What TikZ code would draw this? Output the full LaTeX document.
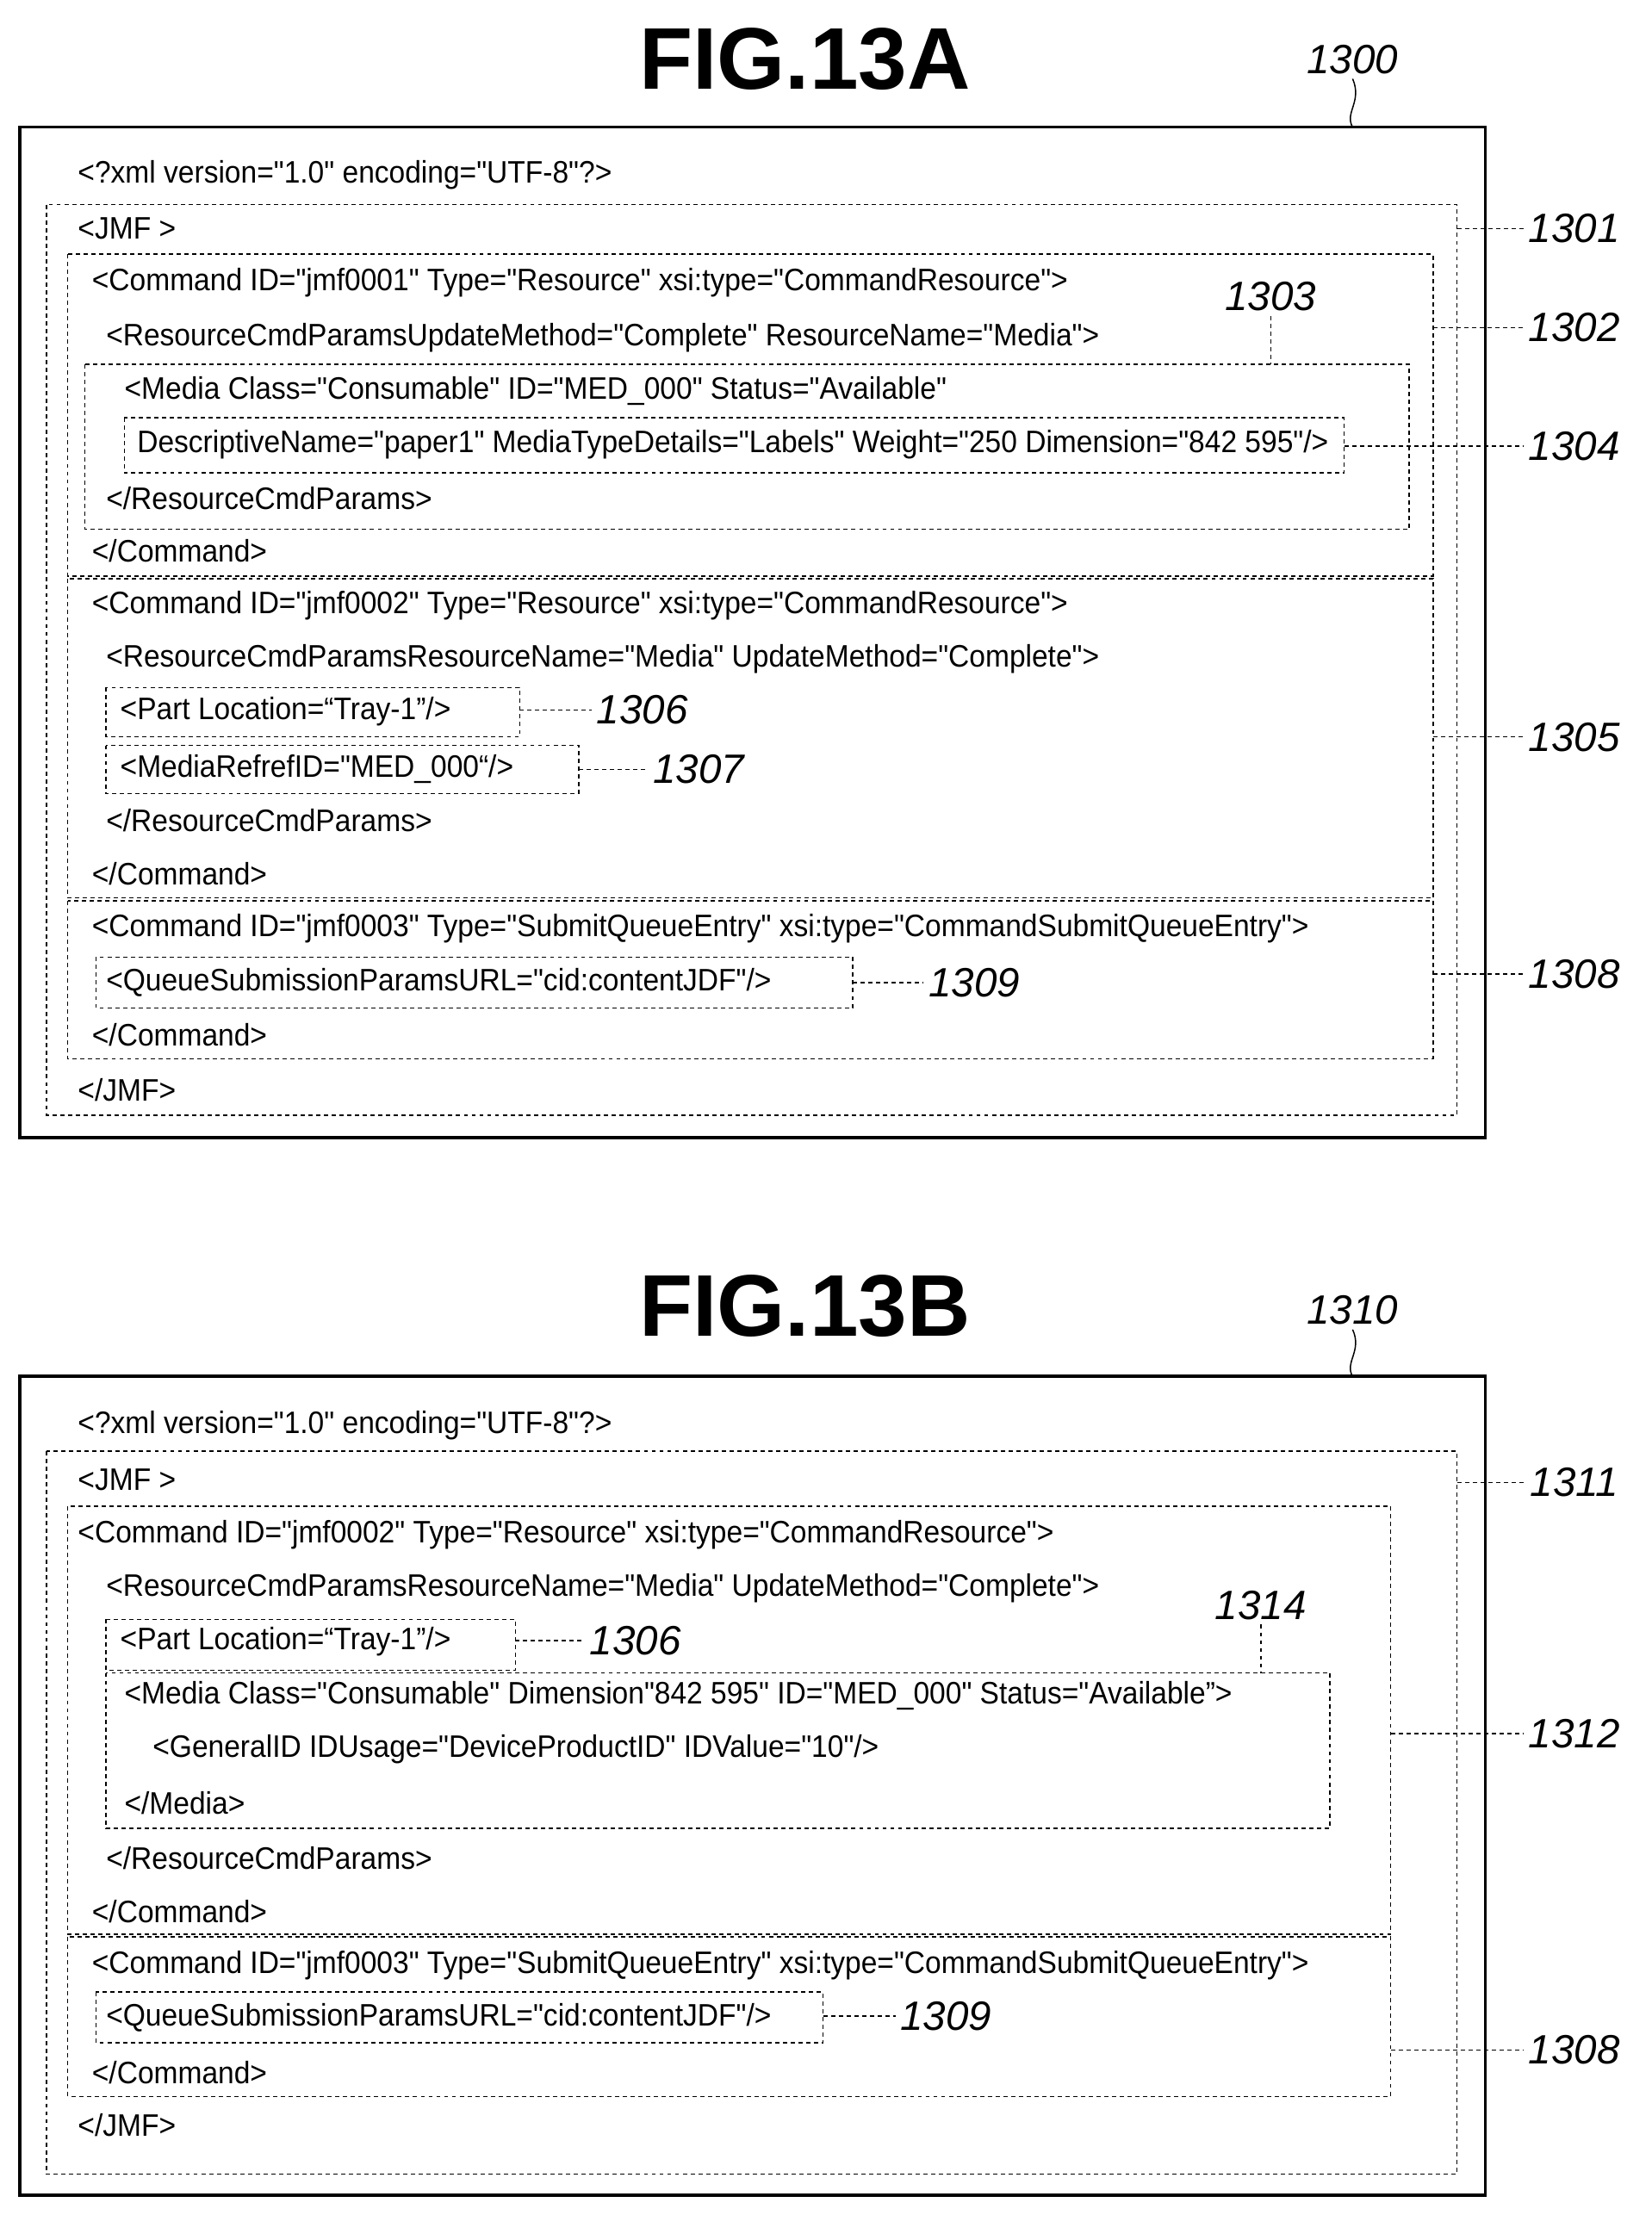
\documentclass[tikz,border=0pt]{standalone}
\usepackage{fontspec}
\setmainfont{Liberation Sans}[FakeStretch=0.93,Ligatures=TeXOff]
\newfontfamily\titlefont{Liberation Sans}
\newfontfamily\reffont{Liberation Sans}
\usetikzlibrary{positioning}
\begin{document}
\begin{tikzpicture}[x=1pt,y=-1pt,
	code/.style={anchor=west,inner sep=0pt,font=\fontsize{22}{24}\selectfont},
	fig title/.style={font=\titlefont\bfseries\fontsize{62}{64}\selectfont},
	ref/.style={font=\reffont\itshape\fontsize{29}{30}\selectfont},
	outer/.style={draw,line width=2.2pt},
	part/.style={draw,dashed,line width=0.9pt,dash pattern=on 3pt off 2.5pt},
	lead/.style={draw,line width=0.9pt,dash pattern=on 3pt off 2.5pt}]
	
	\useasboundingbox (0,0) rectangle (1170,1569);
	
	% FIG.13A
	\node[fig title] (titleA) at (570,42) {FIG.13A};
	\node[ref] (r1300) at (958,42) {1300};
	\draw[outer] (14,90) rectangle (1052,806);
	\draw[line width=0.9pt] (r1300.south) .. controls (965,72) and (952,80) .. (958,90);
	
	\draw[part] (33,145) rectangle (1032,790);
	\draw[part] (48,180) rectangle (1015,408);
	\draw[part] (60,258) rectangle (998,375);
	\draw[part] (88,296) rectangle (952,335);
	\draw[part] (48,410) rectangle (1015,636);
	\draw[part] (75,487) rectangle (368,522);
	\draw[part] (75,528) rectangle (410,562);
	\draw[part] (48,638) rectangle (1015,750);
	\draw[part] (68,678) rectangle (604,714);
	
	\node[code] (a1) at (55,124) {<?xml version="1.0" encoding="UTF-8"?>};
	\node[code] (a2) at (55,162) {<JMF >};
	\node[code] (a3) at (65,200) {<Command ID="jmf0001" Type="Resource" xsi:type="CommandResource">};
	\node[code] (a4) at (75,239) {<ResourceCmdParamsUpdateMethod="Complete" ResourceName="Media">};
	\node[code] (a5) at (88,277) {<Media Class="Consumable" ID="MED\_000" Status="Available"};
	\node[code] (a6) at (97,315) {DescriptiveName="paper1" MediaTypeDetails="Labels" Weight="250 Dimension="842 595"/>};
	\node[code] (a7) at (75,353) {</ResourceCmdParams>};
	\node[code] (a8) at (65,390) {</Command>};
	\node[code] (a9) at (65,429) {<Command ID="jmf0002" Type="Resource" xsi:type="CommandResource">};
	\node[code] (a10) at (75,467) {<ResourceCmdParamsResourceName="Media" UpdateMethod="Complete">};
	\node[code] (a11) at (85,504) {<Part Location=“Tray-1”/>};
	\node[code] (a12) at (85,545) {<MediaRefrefID="MED\_000“/>};
	\node[code] (a13) at (75,581) {</ResourceCmdParams>};
	\node[code] (a14) at (65,619) {</Command>};
	\node[code] (a15) at (65,658) {<Command ID="jmf0003" Type="SubmitQueueEntry" xsi:type="CommandSubmitQueueEntry">};
	\node[code] (a16) at (75,696) {<QueueSubmissionParamsURL="cid:contentJDF"/>};
	\node[code] (a17) at (65,733) {</Command>};
	\node[code] (a18) at (55,772) {</JMF>};
	
	\node[ref] (r1301) at (1115,162) {1301};
	\node[ref] (r1302) at (1115,232) {1302};
	\node[ref] (r1303) at (900,210) {1303};
	\node[ref] (r1304) at (1115,316) {1304};
	\node[ref] (r1305) at (1115,522) {1305};
	\node[ref] (r1306) at (455,503) {1306};
	\node[ref] (r1307) at (495,545) {1307};
	\node[ref] (r1308) at (1115,690) {1308};
	\node[ref] (r1309) at (690,696) {1309};
	
	\path[lead] (1032,162) -- (r1301.west);
	\path[lead] (1015,232) -- (r1302.west);
	\path[lead] (r1303.south) -- (900,258);
	\path[lead] (952,316) -- (r1304.west);
	\path[lead] (1015,522) -- (r1305.west);
	\path[lead] (368,503) -- (r1306.west);
	\path[lead] (410,545) -- (r1307.west);
	\path[lead] (1015,690) -- (r1308.west);
	\path[lead] (604,696) -- (r1309.west);
	
	% FIG.13B
	\node[fig title] (titleB) at (570,925) {FIG.13B};
	\node[ref] (r1310) at (958,928) {1310};
	\draw[outer] (14,975) rectangle (1052,1555);
	\draw[line width=0.9pt] (r1310.south) .. controls (965,957) and (952,965) .. (958,975);
	
	\draw[part] (33,1028) rectangle (1032,1540);
	\draw[part] (48,1067) rectangle (985,1370);
	\draw[part] (75,1147) rectangle (365,1183);
	\draw[part] (75,1185) rectangle (942,1295);
	\draw[part] (48,1372) rectangle (985,1485);
	\draw[part] (68,1411) rectangle (583,1447);
	
	\node[code] (b1) at (55,1010) {<?xml version="1.0" encoding="UTF-8"?>};
	\node[code] (b2) at (55,1048) {<JMF >};
	\node[code] (b3) at (55,1087) {<Command ID="jmf0002" Type="Resource" xsi:type="CommandResource">};
	\node[code] (b4) at (75,1125) {<ResourceCmdParamsResourceName="Media" UpdateMethod="Complete">};
	\node[code] (b5) at (85,1163) {<Part Location=“Tray-1”/>};
	\node[code] (b6) at (88,1201) {<Media Class="Consumable" Dimension"842 595" ID="MED\_000" Status="Available”>};
	\node[code] (b7) at (108,1239) {<GeneralID IDUsage="DeviceProductID" IDValue="10"/>};
	\node[code] (b8) at (88,1277) {</Media>};
	\node[code] (b9) at (75,1316) {</ResourceCmdParams>};
	\node[code] (b10) at (65,1354) {</Command>};
	\node[code] (b11) at (65,1392) {<Command ID="jmf0003" Type="SubmitQueueEntry" xsi:type="CommandSubmitQueueEntry">};
	\node[code] (b12) at (75,1429) {<QueueSubmissionParamsURL="cid:contentJDF"/>};
	\node[code] (b13) at (65,1468) {</Command>};
	\node[code] (b14) at (55,1505) {</JMF>};
	
	\node[ref] (r1311) at (1115,1050) {1311};
	\node[ref] (r1312) at (1115,1228) {1312};
	\node[ref] (r1314) at (893,1137) {1314};
	\node[ref] (r1306b) at (450,1162) {1306};
	\node[ref] (r1308b) at (1115,1452) {1308};
	\node[ref] (r1309b) at (670,1428) {1309};
	
	\path[lead] (1032,1050) -- (r1311.west);
	\path[lead] (985,1228) -- (r1312.west);
	\path[lead] (r1314.south) -- (893,1185);
	\path[lead] (365,1162) -- (r1306b.west);
	\path[lead] (985,1452) -- (r1308b.west);
	\path[lead] (583,1428) -- (r1309b.west);
\end{tikzpicture}
\end{document}
